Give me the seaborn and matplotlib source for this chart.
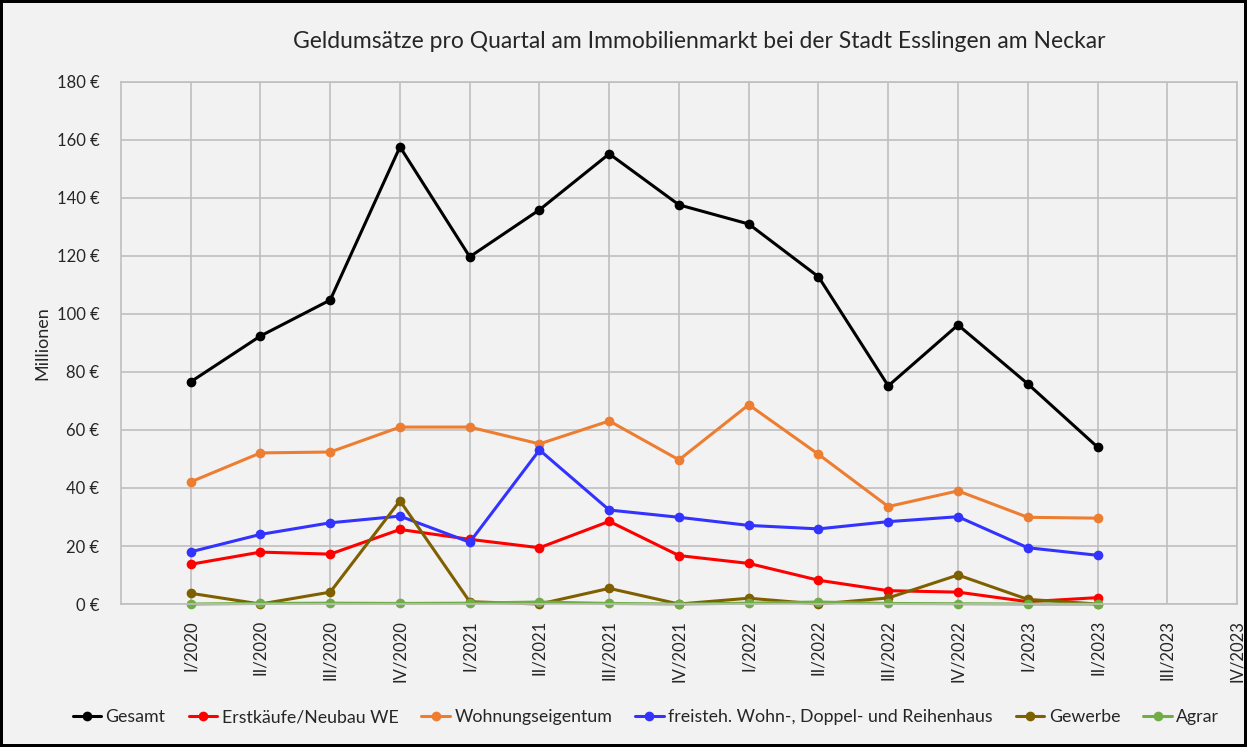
import pandas as pd
import seaborn as sns
import matplotlib.pyplot as plt
from matplotlib.ticker import FuncFormatter

# Quartale (x-Achse geht bis IV/2023, Daten nur bis II/2023)
quartale = ['I/2020', 'II/2020', 'III/2020', 'IV/2020',
            'I/2021', 'II/2021', 'III/2021', 'IV/2021',
            'I/2022', 'II/2022', 'III/2022', 'IV/2022',
            'I/2023', 'II/2023', 'III/2023', 'IV/2023']

# Werte in Millionen Euro
gesamt = [76.6, 92.4, 104.8, 157.6, 119.7, 135.9, 155.2, 137.6, 131.0, 112.8, 75.2, 96.2, 75.9, 54.1]
erstkaeufe = [13.7, 17.9, 17.2, 25.7, 22.3, 19.4, 28.5, 16.7, 14.0, 8.2, 4.6, 4.1, 0.8, 2.2]
wohnungseigentum = [42.1, 52.1, 52.4, 61.0, 61.0, 55.2, 63.1, 49.7, 68.7, 51.6, 33.6, 39.0, 29.9, 29.6]
freistehend = [18.0, 24.0, 28.0, 30.3, 21.3, 53.1, 32.4, 29.9, 27.1, 25.9, 28.4, 30.1, 19.4, 16.8]
gewerbe = [3.7, 0.0, 4.1, 35.6, 0.8, 0.0, 5.4, 0.0, 2.0, 0.0, 2.1, 10.0, 1.6, 0.0]
agrar = [0.0, 0.2, 0.3, 0.2, 0.3, 0.7, 0.2, 0.0, 0.3, 0.7, 0.2, 0.1, 0.0, 0.0]

reihen = {
    'Gesamt': gesamt,
    'Erstkäufe/Neubau WE': erstkaeufe,
    'Wohnungseigentum': wohnungseigentum,
    'freisteh. Wohn-, Doppel- und Reihenhaus': freistehend,
    'Gewerbe': gewerbe,
    'Agrar': agrar,
}
farben = ['#000000', '#ff0000', '#ed7d31', '#3333ff', '#7f6000', '#70ad47']

# Long-Format fuer seaborn
rows = []
for name, werte in reihen.items():
    for i, w in enumerate(werte):
        rows.append({'pos': i + 1, 'wert': w, 'reihe': name})
df = pd.DataFrame(rows)

sns.set_style('whitegrid')
plt.rcParams['font.family'] = ['Lato', 'DejaVu Sans']

fig = plt.figure(figsize=(12.47, 7.47), dpi=100, facecolor='#f2f2f2',
                 edgecolor='black', linewidth=4)
ax = fig.add_axes([0.097, 0.1914, 0.895, 0.699])
ax.set_facecolor('#f2f2f2')

sns.lineplot(data=df, x='pos', y='wert', hue='reihe', hue_order=list(reihen.keys()),
             palette=farben, marker='o', markersize=7, markeredgewidth=0,
             linewidth=2.2, ax=ax)
# Linien bei 0 nicht abschneiden
for line in ax.lines:
    line.set_clip_on(False)

ax.set_xlim(0, 16)
ax.set_ylim(0, 180)
ax.set_xticks(range(1, 17))
ax.set_xticklabels(quartale, rotation=90, fontsize=12)
ax.set_yticks(range(0, 181, 20))
ax.yaxis.set_major_formatter(FuncFormatter(lambda v, p: f'{int(v)} €'))
ax.tick_params(axis='y', labelsize=12, pad=12)
ax.tick_params(axis='x', pad=8)
ax.grid(True, color='#bfbfbf', linewidth=1.2)
for s in ax.spines.values():
    s.set_color('#bfbfbf')
    s.set_linewidth(1.2)

ax.set_xlabel('')
ax.set_ylabel('Millionen', fontsize=13)
ax.yaxis.set_label_coords(-0.063, 0.5)

fig.text(0.561, 0.944, 'Geldumsätze pro Quartal am Immobilienmarkt bei der Stadt Esslingen am Neckar',
         ha='center', va='center', fontsize=16.5)

ax.get_legend().remove()
handles, labels = ax.get_legend_handles_labels()
fig.legend(handles, labels, loc='center', bbox_to_anchor=(0.518, 0.04), ncol=6,
           frameon=False, fontsize=12.8, handlelength=1.6, handletextpad=0.25,
           columnspacing=1.3)

fig.savefig('out.png', dpi=100, facecolor=fig.get_facecolor(), edgecolor='black')
